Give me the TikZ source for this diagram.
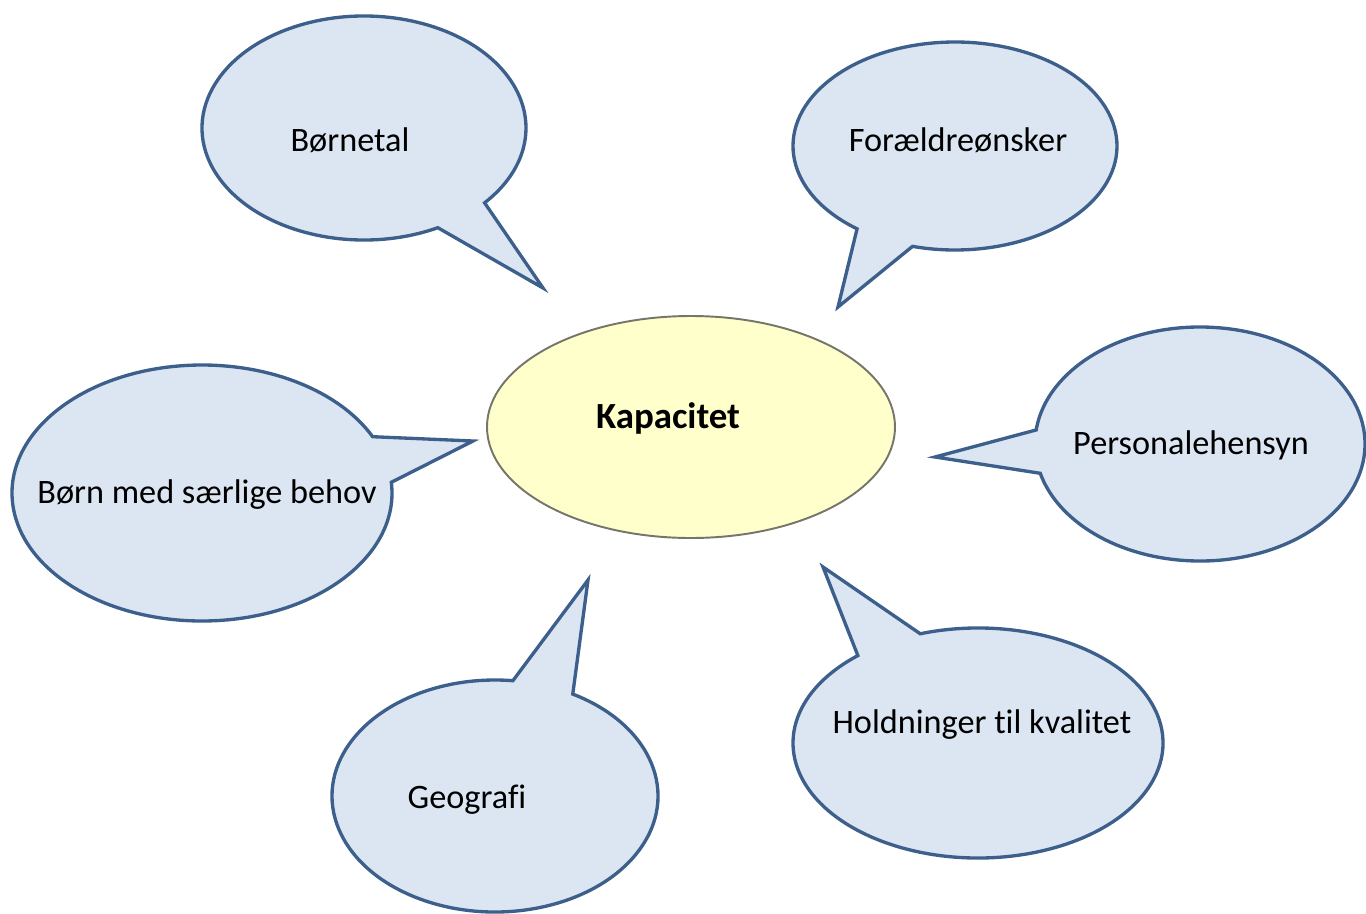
\documentclass[tikz,border=0pt]{standalone}
\usepackage{fontspec}
\setmainfont{Carlito}[Ligatures=NoCommon]
\definecolor{bubfill}{HTML}{DCE6F2}
\definecolor{bubline}{HTML}{3D5F8C}
\definecolor{capfill}{HTML}{FFFFCC}
\definecolor{capline}{HTML}{75756A}
\tikzset{
  bubble/.style={fill=bubfill, draw=bubline, line width=1.9pt, line join=miter},
  centre/.style={fill=capfill, draw=capline, line width=1.1pt},
  lbl/.style={inner sep=0pt, font=\fontsize{19.5}{23}\selectfont},
  biglbl/.style={inner sep=0pt, font=\fontsize{21}{25}\selectfont\bfseries}
}
\begin{document}
\begin{tikzpicture}[x=0.02cm,y=-0.02cm]
\useasboundingbox (0,0) rectangle (1366,913);
% tips
\coordinate (t1) at (543,288);
\coordinate (t2) at (838,307);
\coordinate (t3) at (473,441);
\coordinate (t4) at (935,457);
\coordinate (t5) at (588,580);
\coordinate (t6) at (823,567);
% bubble 1: Børnetal
\draw[bubble] (364,128) ++(62.9:162 and 112) arc[start angle=62.9, end angle=401.9, x radius=162, y radius=112] -- (t1) -- cycle;
% bubble 2: Forældreønsker
\draw[bubble] (955,146) ++(127.2:162 and 104) arc[start angle=127.2, end angle=465.2, x radius=162, y radius=104] -- (t2) -- cycle;
% bubble 3: Børn med særlige behov
\draw[bubble] (202,493) ++(-4.8:190 and 128) arc[start angle=-4.8, end angle=333.9, x radius=190, y radius=128] -- (t3) -- cycle;
% bubble 4: Personalehensyn
\draw[bubble] (1200,444) ++(186.9:165 and 117) arc[start angle=186.9, end angle=525.5, x radius=165, y radius=117] -- (t4) -- cycle;
% bubble 5: Geografi
\draw[bubble] (495,796) ++(-61.5:163 and 116) arc[start angle=-61.5, end angle=276.3, x radius=163, y radius=116] -- (t5) -- cycle;
% bubble 6: Holdninger til kvalitet
\draw[bubble] (978,743) ++(251.8:185 and 115) arc[start angle=251.8, end angle=589.5, x radius=185, y radius=115] -- (t6) -- cycle;
% centre
\draw[centre] (691,427) ellipse[x radius=204, y radius=111];
% labels
\node[lbl] (n1) at (350,140) {Børnetal};
\node[lbl] (n2) at (958,140) {Forældreønsker};
\node[biglbl] (n0) at (668,418) {Kapacitet};
\node[lbl] (n3) at (207,495) {Børn med særlige behov};
\node[lbl] (n4) at (1191,445) {Personalehensyn};
\node[lbl] (n5) at (467,800) {Geografi};
\node[lbl] (n6) at (982,725) {Holdninger til kvalitet};
\end{tikzpicture}
\end{document}
